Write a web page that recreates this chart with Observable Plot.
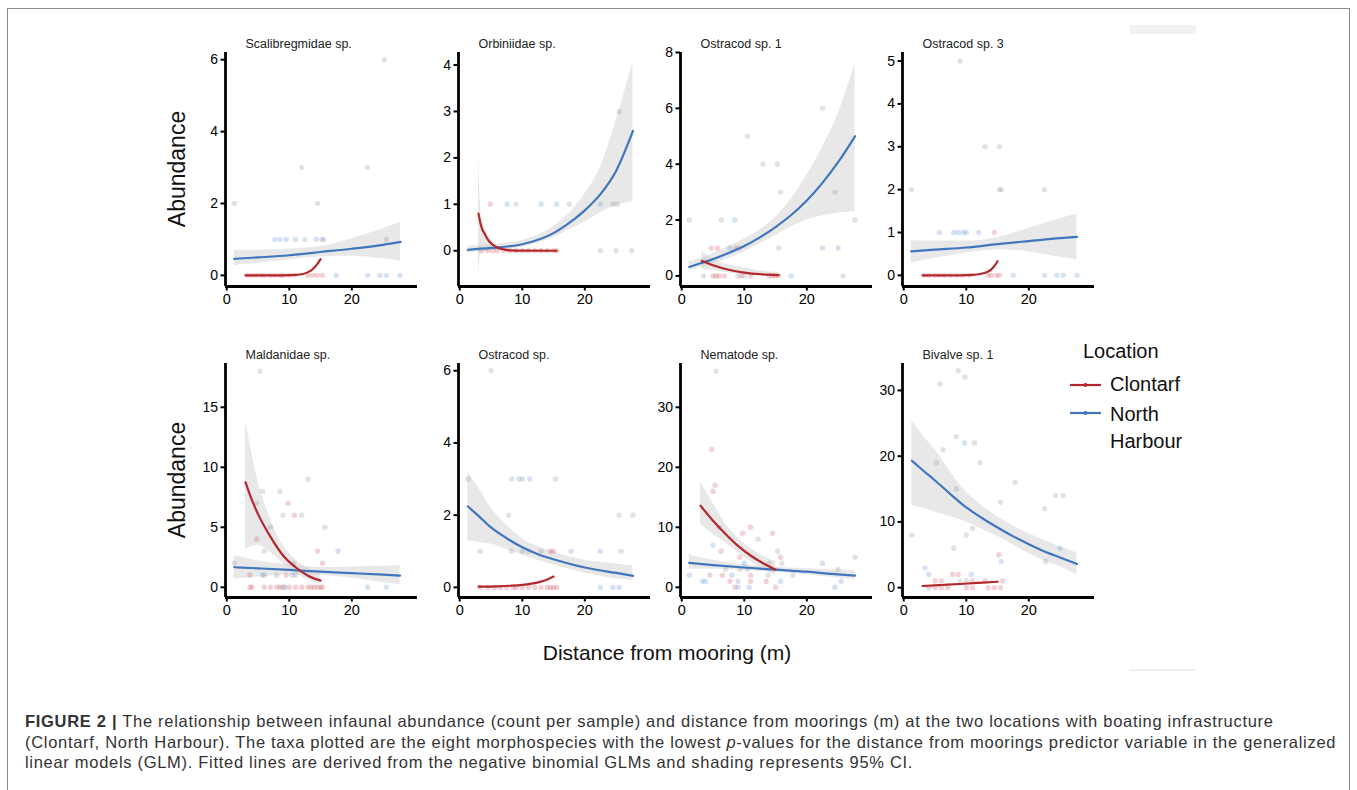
<!DOCTYPE html>
<html><head><meta charset="utf-8">
<script src="https://cdn.jsdelivr.net/npm/d3@7"></script>
<script src="https://cdn.jsdelivr.net/npm/@observablehq/plot@0.6"></script>
<style>
html,body{margin:0;padding:0;background:#fff;overflow:hidden;}
#fig{position:relative;width:1357px;height:790px;font-family:"Liberation Sans",Arial,Helvetica,sans-serif;color:#222;}
#frame{position:absolute;left:7px;top:8px;width:1343px;height:820px;border:1px solid #8a8a8a;box-sizing:border-box;}
.panel{position:absolute;}
.ylab{position:absolute;font-size:23px;white-space:nowrap;transform:translate(-50%,-50%) rotate(-90deg);color:#111;}
.xlab{position:absolute;font-size:21px;white-space:nowrap;transform:translate(-50%,-50%);color:#111;}
#legend{position:absolute;left:1066px;top:338px;font-size:20px;color:#111;}
#legend .ttl{position:absolute;left:17px;top:0;white-space:nowrap;}
#legend .item{position:absolute;left:0;white-space:nowrap;}
#legend svg{position:absolute;left:0;top:0;}
#caption{position:absolute;left:25px;top:711px;font-size:16.5px;letter-spacing:0.7px;line-height:20.5px;color:#333;white-space:nowrap;}
.art1{position:absolute;left:1130px;top:25px;width:66px;height:9px;background:#f2f2f2;}
.art2{position:absolute;left:1130px;top:669px;width:66px;height:2px;background:#efefef;}
</style>
</head><body>
<div id="fig">
  <div id="frame"></div>
  <div class="art1"></div><div class="art2"></div>
  <div class="ylab" style="left:177px;top:169px;">Abundance</div>
  <div class="ylab" style="left:177px;top:480px;">Abundance</div>
  <div class="xlab" style="left:667px;top:653px;">Distance from mooring (m)</div>
  <div id="legend"></div>
  <div id="caption"><b>FIGURE 2 |</b> The relationship between infaunal abundance (count per sample) and distance from moorings (m) at the two locations with boating infrastructure<br>(Clontarf, North Harbour). The taxa plotted are the eight morphospecies with the lowest <i>p</i>-values for the distance from moorings predictor variable in the generalized<br>linear models (GLM). Fitted lines are derived from the negative binomial GLMs and shading represents 95% CI.</div>
</div>
<script>
// ---------------- DATA ----------------
const taxa = ["Scalibregmidae sp.", "Orbiniidae sp.", "Ostracod sp. 1", "Ostracod sp. 3",
              "Maldanidae sp.", "Ostracod sp.", "Nematode sp.", "Bivalve sp. 1"];
const locations = ["Clontarf", "North Harbour"];
const xTickValues = [0, 10, 20];
const yTickValues = [[0,2,4,6],[0,1,2,3,4],[0,2,4,6,8],[0,1,2,3,4,5],
                     [0,5,10,15],[0,2,4,6],[0,10,20,30],[0,10,20,30]];
const yDomains = [[-0.31,6.2],[-0.77,4.27],[-0.38,8.0],[-0.26,5.2],
                  [-0.85,18.65],[-0.28,6.2],[-1.7,37.3],[-1.5,34.1]];
const xDomain = [-0.2, 30.5];

// points: [distance, abundance, group]  C = Clontarf, N = North Harbour, G = overlapping/grey
const scalPoints = [[1.2,2,"G"],[12,3,"G"],[14.5,2,"G"],[22.5,3,"G"],[25.2,6,"G"],[25.5,1,"G"],[12.5,1,"G"],[15.5,1,"G"],
  [7.7,1,"N"],[8.5,1,"N"],[9.5,1,"N"],[11,1,"N"],[14.3,1,"N"],[15.2,1,"N"],
  [3.3,0,"C"],[4,0,"C"],[4.7,0,"C"],[5.5,0,"C"],[6,0,"C"],[7,0,"C"],[7.7,0,"C"],[8.5,0,"C"],[9,0,"C"],[10,0,"C"],[10.8,0,"C"],[13,0,"C"],[13.8,0,"C"],[14.5,0,"C"],[15.3,0,"C"],
  [17.5,0,"N"],[22.5,0,"N"],[24.5,0,"N"],[25.5,0,"N"],[27.7,0,"N"]];
const orbiPoints = [[4.9,1,"C"],[7.6,1,"N"],[13,1,"N"],[15.5,1,"N"],[22.5,1,"N"],[9,1,"G"],[17.5,1,"G"],[24.5,1,"G"],[25.2,1,"G"],[25.5,3,"G"],
  [3.5,0,"C"],[4.5,0,"C"],[5.3,0,"C"],[6,0,"C"],[7,0,"C"],[8,0,"C"],[9,0,"C"],[10,0,"C"],[11,0,"C"],[12,0,"C"],[13,0,"C"],[14,0,"C"],[15,0,"C"],[15.5,0,"C"],
  [22.5,0,"G"],[25,0,"G"],[27.5,0,"G"]];
const ostr1Points = [[1.2,2,"G"],[6.3,2,"G"],[10.5,5,"G"],[13,4,"G"],[15.3,4,"G"],[15.8,3,"G"],[15.5,1,"G"],[24.5,3,"G"],[22.5,6,"G"],[27.7,2,"G"],[25.8,0,"G"],[3.5,0,"G"],[9,0,"G"],[10,0,"G"],[9.2,1,"G"],
  [8.5,2,"N"],[22.5,1,"N"],[25,1,"N"],[17.5,0,"N"],[7.7,1,"N"],
  [4.7,1,"C"],[5.7,1,"C"],[8.7,1,"C"],[5,0,"C"],[5.5,0,"C"],[6,0,"C"],[6.8,0,"C"],[9.5,0,"C"],[11,0,"C"],[14,0,"C"],[14.5,0,"C"],[15,0,"C"],[15.5,0,"C"]];
const ostr3Points = [[1.2,2,"G"],[9,5,"G"],[13,3,"G"],[15.3,3,"G"],[15.3,2,"G"],[15.6,2,"G"],[22.5,2,"G"],
  [5.7,1,"N"],[8,1,"N"],[8.7,1,"N"],[9.5,1,"N"],[10,1,"N"],[12,1,"N"],[14.5,1,"C"],
  [3.3,0,"C"],[4,0,"C"],[5,0,"C"],[5.7,0,"C"],[6.5,0,"C"],[7.5,0,"C"],[8.5,0,"C"],[9.5,0,"C"],[10.5,0,"C"],[13.5,0,"C"],[14,0,"C"],[14.8,0,"C"],[15.3,0,"C"],
  [17.5,0,"N"],[22.5,0,"N"],[24.5,0,"N"],[25.5,0,"N"],[27.7,0,"N"]];
const maldPoints = [[5.3,18,"G"],[13,9,"G"],[5.7,8,"G"],[8.5,8,"G"],[4.8,7,"G"],[9,6,"G"],[12,6,"G"],[7,5,"G"],[15.7,5,"G"],[6,3,"G"],[1.2,2,"G"],[10.7,2,"G"],[6,1,"G"],[8,1,"G"],[11,1,"G"],
  [9.8,7,"C"],[10.8,6,"C"],[4.8,4,"C"],[14.5,3,"C"],[15.3,2,"C"],[3.7,1,"C"],[9.5,1,"C"],
  [3.7,0,"C"],[4,0,"C"],[6,0,"C"],[7,0,"C"],[8,0,"C"],[8.5,0,"C"],[9,0,"C"],[10,0,"C"],[11,0,"C"],[12,0,"C"],[13,0,"C"],[13.5,0,"C"],[14,0,"C"],[14.5,0,"C"],[15,0,"C"],[15.3,0,"C"],
  [17.8,3,"N"],[5.7,1,"N"],[10.5,1,"N"],[9.3,0,"N"],[22.5,0,"N"],[25.5,0,"N"]];
const ostrPoints = [[5,6,"G"],[1.3,3,"G"],[8.3,3,"G"],[10,3,"G"],[15.3,3,"G"],[7.8,2,"G"],[25.5,2,"G"],[27.7,2,"G"],[3.3,1,"G"],[8.2,1,"G"],[11,1,"G"],[13,1,"G"],[25.8,1,"G"],
  [9.5,3,"N"],[11.2,3,"N"],[10,1,"N"],[17.8,1,"N"],[22.5,1,"N"],[22.5,0,"N"],[24.5,0,"N"],[25.5,0,"N"],
  [14.5,1,"C"],[15,1,"C"],[3.3,0,"C"],[4.5,0,"C"],[5.5,0,"C"],[6.5,0,"C"],[7.5,0,"C"],[8.5,0,"C"],[9,0,"C"],[10,0,"C"],[11,0,"C"],[12,0,"C"],[13,0,"C"],[14,0,"C"],[14.5,0,"C"],[15,0,"C"],[15.5,0,"C"]];
const nemaPoints = [[5.5,36,"G"],[6,10,"G"],[12.2,8,"G"],[15.3,6,"G"],[27.7,5,"G"],[14,4,"G"],[16,4,"G"],[7,3,"G"],[9.3,3,"G"],[10.5,3,"G"],[25,3,"G"],[13.8,2,"G"],[17.8,2,"G"],
  [4.8,23,"C"],[5.3,17,"C"],[5,16,"C"],[11,10,"C"],[9.7,9,"C"],[14.5,9,"C"],[6.3,6,"C"],[9.3,5,"C"],[15.8,5,"C"],[4.5,2,"C"],[6.5,2,"C"],[11,2,"C"],[7.7,1,"C"],[11,1,"C"],[13.5,1,"C"],[8.5,0,"C"],[15,0,"C"],
  [5,7,"N"],[10,4,"N"],[22.5,4,"N"],[1.2,2,"N"],[8,2,"N"],[3.3,1,"N"],[3.8,1,"N"],[9,1,"N"],[15.8,1,"N"],[25.5,1,"N"],[9,0,"N"],[10.8,0,"N"],[24.5,0,"N"]];
const bivaPoints = [[8.7,33,"G"],[9.8,32,"G"],[5.8,31,"G"],[6.3,21,"G"],[11.3,22,"G"],[8.4,23,"G"],[5.2,19,"G"],[12.2,19,"G"],[17.8,16,"G"],[24.3,14,"G"],[25.5,14,"G"],[15.5,13,"G"],[22.5,12,"G"],[8,6,"G"],[1.3,8,"G"],[10,8,"G"],[22.7,4,"G"],[8.4,15,"G"],[11,9,"G"],[9,1,"G"],[10,1,"G"],
  [9.7,22,"N"],[25,6,"N"],[15.6,4,"N"],[3.4,3,"N"],[4,2,"N"],[10.8,2,"N"],
  [15.2,5,"C"],[7.8,2,"C"],[8.7,2,"C"],[5,1,"C"],[6,1,"C"],[11,1,"C"],[13,1,"C"],[15.8,1,"C"],[4,0,"C"],[5,0,"C"],[6,0,"C"],[7,0,"C"],[10,0,"C"],[11,0,"C"],[13.5,0,"C"],[14.5,0,"C"],[15.5,0,"C"]];

// fitted lines: [distance, fit, lower95, upper95]
const scalFitC = [[3,0],[5,0],[7,0],[9,0.002],[10,0.005],[11,0.012],[12,0.03],[13,0.09],[13.5,0.14],[14,0.22],[14.5,0.32],[15,0.45]];
const scalFitN = [[1.2,0.46,0.27,0.70],[5,0.5,0.34,0.70],[10,0.56,0.43,0.73],[15,0.65,0.52,0.80],[20,0.74,0.53,1.02],[25,0.85,0.46,1.30],[27.8,0.93,0.40,1.48]];
const orbiFitC = [[3,0.8,-0.55,2.06],[3.3,0.6,-0.1,1.0],[3.6,0.46,0.05,0.65],[4,0.36,0.08,0.5],[4.5,0.24,0.06,0.36],[5,0.16,0.04,0.24],[5.6,0.1,0.02,0.15],[6,0.07,0.01,0.1],[7,0.03,0,0.05],[8,0.01,0,0.02],[10,0.002,0,0.005],[15.5,0,0,0]];
const orbiFitN = [[1.3,0.02,-0.05,0.1],[5,0.06,0.0,0.13],[10,0.14,0.08,0.22],[15,0.38,0.28,0.52],[17.5,0.6,0.45,0.8],[20,0.87,0.62,1.22],[22.5,1.22,0.82,1.8],[25,1.72,0.97,2.8],[27.7,2.58,1.06,4.07]];
const ostr1FitC = [[3.2,0.54,0.25,0.9],[5,0.38,0.2,0.6],[7.5,0.22,0.1,0.4],[10,0.12,0.05,0.28],[12.5,0.06,0.02,0.18],[15.5,0.03,0.01,0.12]];
const ostr1FitN = [[1.2,0.32,0.2,0.5],[3,0.45,0.3,0.62],[5,0.6,0.42,0.8],[7.5,0.82,0.62,1.05],[10,1.07,0.86,1.32],[12.5,1.38,1.15,1.65],[15,1.75,1.45,2.1],[17.5,2.18,1.75,2.75],[20,2.7,2.0,3.6],[22.5,3.33,2.15,4.6],[25,4.07,2.25,5.8],[27.7,5.0,2.3,7.6]];
const ostr3FitC = [[3,0],[5,0],[7,0],[9,0.001],[10,0.004],[11,0.01],[12,0.025],[13,0.06],[13.5,0.09],[14,0.14],[14.5,0.22],[15,0.33]];
const ostr3FitN = [[1.2,0.56,0.29,0.81],[5,0.6,0.4,0.8],[10,0.65,0.52,0.8],[15,0.73,0.6,0.88],[20,0.8,0.55,1.1],[25,0.87,0.42,1.32],[27.7,0.9,0.36,1.43]];
const maldFitC = [[3,8.75,3.2,13.9],[4,7.3,3.4,11.2],[5,6.1,3.5,8.8],[7,4.2,2.9,5.7],[9,2.65,2.0,3.5],[11,1.67,1.2,2.3],[13,0.97,0.6,1.6],[15,0.56,0.25,1.2]];
const maldFitN = [[1.2,1.67,0.7,2.64],[5,1.58,0.85,2.2],[10,1.45,1.05,1.9],[15,1.3,1.0,1.65],[20,1.18,0.75,1.7],[25,1.05,0.4,1.75],[27.7,0.97,0.22,1.8]];
const ostrFitC = [[3,0.02],[6,0.03],[8,0.045],[10,0.07],[12.5,0.14],[14,0.22],[15,0.3]];
const ostrFitN = [[1.3,2.24,1.29,3.19],[3,1.98,1.25,2.75],[5,1.66,1.2,2.2],[7.5,1.36,1.05,1.72],[10,1.11,0.9,1.35],[12.5,0.92,0.75,1.13],[15,0.78,0.62,0.98],[20,0.55,0.4,0.75],[25,0.4,0.24,0.65],[27.7,0.32,0.18,0.6]];
const nemaFitC = [[3,13.6,10.6,17.5],[5,11.1,8.8,14],[7,8.9,7.4,10.6],[9,6.9,5.8,8.2],[11,5.3,4.3,6.5],[13,4.0,3.0,5.2],[15,2.94,2.0,4.3]];
const nemaFitN = [[1.2,4.06,3.0,5.4],[5,3.7,3.0,4.5],[10,3.3,2.8,3.8],[15,2.95,2.5,3.4],[20,2.6,2.1,3.1],[25,2.15,1.55,2.9],[27.7,1.95,1.3,2.8]];
const bivaFitC = [[3,0.25],[6,0.4],[9,0.55],[12,0.72],[15,0.9]];
const bivaFitN = [[1.3,19.3,12.5,25.5],[3,17.9,12.1,23.2],[5,16.3,11.5,21],[7.5,14.2,10.8,17.5],[10,12.2,10,14.5],[12.5,10.6,8.9,12.5],[15,9.15,7.8,10.8],[17.5,7.8,6.5,9.4],[20,6.6,5.2,8.2],[22.5,5.5,4.1,7.2],[25,4.6,3.2,6.2],[27.7,3.6,1.9,5.3]];

const allPoints = [scalPoints, orbiPoints, ostr1Points, ostr3Points, maldPoints, ostrPoints, nemaPoints, bivaPoints];
const allFitC = [scalFitC, orbiFitC, ostr1FitC, ostr3FitC, maldFitC, ostrFitC, nemaFitC, bivaFitC];
const allFitN = [scalFitN, orbiFitN, ostr1FitN, ostr3FitN, maldFitN, ostrFitN, nemaFitN, bivaFitN];

// ---------------- STYLE / LAYOUT ----------------
const RED = "#B3282D", BLUE = "#3F76BC";
const DOT = {C: "#C8434A", N: "#4F86CB", G: "#858585"};
const axisX = [225, 458, 680, 902];
const rowTop = [52, 363];
const ML = 40, MR = 12, MT = 30, MB = 30, PW = 192, PH = 234;

function toObj(rows) { return rows.map(r => ({x: r[0], y: r[1], lo: r[2], hi: r[3]})); }

function makePanel(i) {
  const pts = allPoints[i].map(p => ({x: p[0], y: p[1], g: p[2]}));
  const fc = toObj(allFitC[i]), fn = toObj(allFitN[i]);
  const yd = yDomains[i];
  const marks = [];
  const curve = "monotone-x";
  if (fn[0].lo !== undefined) marks.push(Plot.areaY(fn, {x: "x", y1: "lo", y2: "hi", fill: "#cccccc", fillOpacity: 0.45, curve}));
  if (fc[0].lo !== undefined) marks.push(Plot.areaY(fc, {x: "x", y1: "lo", y2: "hi", fill: "#cccccc", fillOpacity: 0.45, curve}));
  marks.push(Plot.dot(pts, {x: "x", y: "y", r: 2.7, fill: d => DOT[d.g], fillOpacity: 0.24, stroke: null}));
  marks.push(Plot.line(fn, {x: "x", y: "y", stroke: BLUE, strokeWidth: 2.2, curve}));
  marks.push(Plot.line(fc, {x: "x", y: "y", stroke: RED, strokeWidth: 2.2, curve}));
  marks.push(Plot.axisX({ticks: xTickValues, tickFormat: d => String(d), tickSize: 4.5, tickPadding: 3, stroke: "#000", strokeWidth: 2, fontSize: 14.5, fill: "#000", label: null}));
  marks.push(Plot.axisY({ticks: yTickValues[i], tickFormat: d => String(d), tickSize: 4.5, tickPadding: 3, stroke: "#000", strokeWidth: 2, fontSize: 14, fill: "#000", label: null}));
  marks.push(Plot.ruleX([xDomain[0]], {stroke: "#000", strokeWidth: 2.8}));
  marks.push(Plot.ruleY([yd[0]], {stroke: "#000", strokeWidth: 2.8}));
  marks.push(Plot.text([taxa[i]], {frameAnchor: "top-left", dx: 20, dy: -9, text: d => d, textAnchor: "start", lineAnchor: "middle", fontSize: 12.5, fill: "#222"}));
  const svg = Plot.plot({
    width: ML + PW + MR, height: MT + PH + MB,
    marginLeft: ML, marginRight: MR, marginTop: MT, marginBottom: MB,
    x: {domain: xDomain},
    y: {domain: yd},
    style: {background: "transparent", overflow: "visible", fontSize: "14px", fontFamily: '"Liberation Sans", Arial, sans-serif'},
    marks
  });
  const wrap = document.createElement("div");
  wrap.className = "panel";
  wrap.style.left = (axisX[i % 4] - ML) + "px";
  wrap.style.top = (rowTop[Math.floor(i / 4)] - MT) + "px";
  wrap.style.width = (ML + PW + MR) + "px";
  wrap.appendChild(svg);
  document.getElementById("fig").appendChild(wrap);
}
for (let i = 0; i < 8; i++) makePanel(i);

// legend
const lg = document.getElementById("legend");
lg.innerHTML = '<div class="ttl" style="top:2px;">Location</div>' +
  '<svg width="40" height="120"><line x1="4" x2="35" y1="47" y2="47" stroke="' + RED + '" stroke-width="2.2"/><circle cx="19.5" cy="47" r="2" fill="' + RED + '"/>' +
  '<line x1="4" x2="35" y1="75" y2="75" stroke="' + BLUE + '" stroke-width="2.2"/><circle cx="19.5" cy="75" r="2" fill="' + BLUE + '"/></svg>' +
  '<div class="item" style="left:44px;top:35px;">' + locations[0] + '</div>' +
  '<div class="item" style="left:44px;top:63px;line-height:27px;">North<br>Harbour</div>';
</script>
</body></html>
